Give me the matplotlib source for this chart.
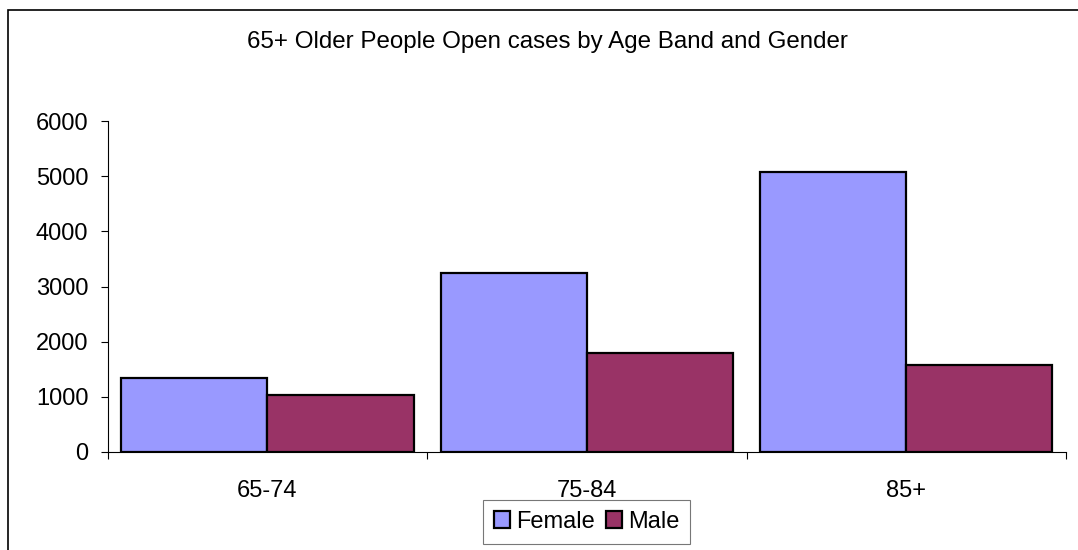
import numpy as np
import matplotlib.pyplot as plt
from matplotlib.patches import Rectangle

plt.rcParams['font.family'] = ['Liberation Sans', 'DejaVu Sans']

# Donnees
categories = ["65-74", "75-84", "85+"]
female = [1350, 3250, 5075]
male = [1030, 1790, 1580]
y_ticks = [0, 1000, 2000, 3000, 4000, 5000, 6000]

fig = plt.figure(figsize=(10.78, 5.5), dpi=100)
fig.patch.set_facecolor("white")

# Cadre exterieur du graphique
fig.add_artist(Rectangle((8 / 1078, -0.05), 1.2, 1 - 9.5 / 550 + 0.05,
	transform=fig.transFigure, fill=False, edgecolor="black", linewidth=1.2, clip_on=False))

ax = fig.add_axes([107.7 / 1078, 98 / 550, (1066 - 107.7) / 1078, (452 - 121) / 550])

x = np.arange(len(categories))
w = 0.4577
ax.bar(x - w / 2, female, width=w, color="#9999FF", edgecolor="black", linewidth=1.6, label="Female")
ax.bar(x + w / 2, male, width=w, color="#993366", edgecolor="black", linewidth=1.6, label="Male")

ax.set_xlim(-0.5, len(categories) - 0.5)
ax.set_ylim(0, 6000)
ax.set_yticks(y_ticks)
ax.set_yticklabels([str(v) for v in y_ticks])
ax.set_xticks(x)
ax.set_xticklabels(categories)
ax.set_xticks(np.arange(len(categories) + 1) - 0.5, minor=True)

ax.tick_params(axis="y", direction="out", length=5, width=0.8, pad=9, labelsize=17, colors="black")
ax.tick_params(axis="x", which="major", length=0, pad=20, labelsize=17)
ax.tick_params(axis="x", which="minor", direction="out", length=5, width=0.8)

for side in ["top", "right"]:
	ax.spines[side].set_visible(False)
for side in ["left", "bottom"]:
	ax.spines[side].set_color("black")
	ax.spines[side].set_linewidth(0.8)

fig.text(547 / 1078, 1 - 42 / 550, "65+ Older People Open cases by Age Band and Gender",
	ha="center", va="center", fontsize=17.4)

leg = fig.legend(loc="center", bbox_to_anchor=(586.5 / 1078, 28 / 550), ncol=2,
	fontsize=17, frameon=True, fancybox=False, edgecolor="#555555",
	handlelength=0.7, handleheight=0.7, handletextpad=0.25, columnspacing=0.45,
	borderpad=0.45, borderaxespad=0)
leg.get_frame().set_linewidth(0.8)

fig.savefig("out.png", dpi=100, facecolor="white")
